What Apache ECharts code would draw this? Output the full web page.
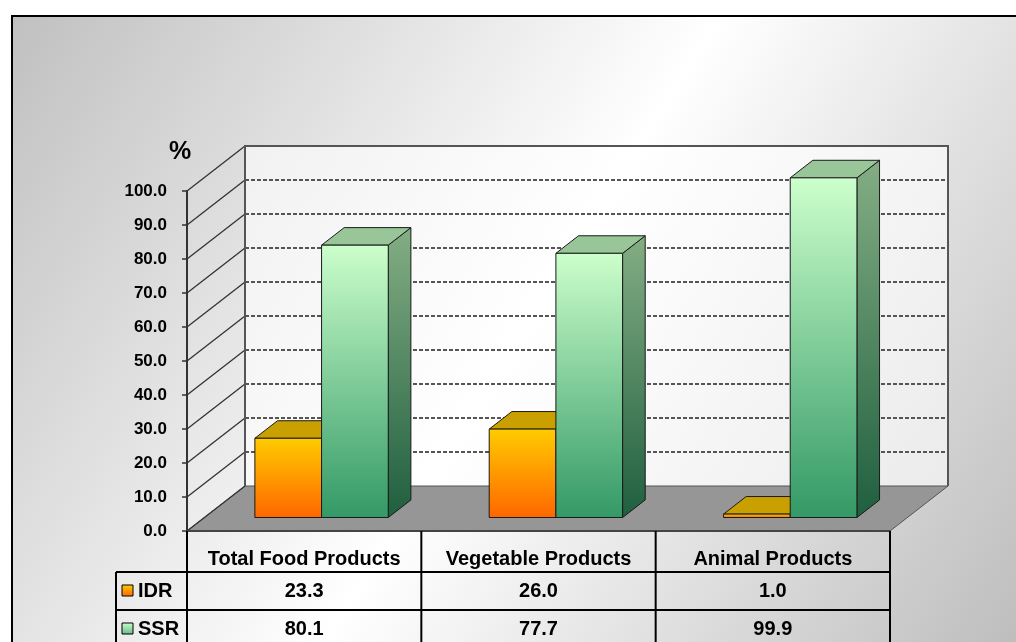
<!DOCTYPE html>
<html>
<head>
<meta charset="utf-8">
<script src="https://cdn.jsdelivr.net/npm/echarts@6/dist/echarts.min.js"></script>
<style>
  html, body { margin: 0; padding: 0; background: #fff; }
  #chart { width: 1016px; height: 642px; }
</style>
</head>
<body>
<div id="chart"></div>
<script>
// ---- data ----
const categories = ['Total Food Products', 'Vegetable Products', 'Animal Products'];
const seriesNames = ['IDR', 'SSR'];
const idrValues = [23.3, 26.0, 1.0];
const ssrValues = [80.1, 77.7, 99.9];
const yTicks = [0, 10, 20, 30, 40, 50, 60, 70, 80, 90, 100];

// ---- look ----
const FONT = '"Liberation Sans", Arial, sans-serif';
const DEPTH = [58, -45];            // screen offset of the back plane
const BAR_Z0 = 0.30, BAR_Z1 = 0.69; // depth slice occupied by the bars
const BAR_FRAC = 0.2846;            // one bar's width as a share of a category band
const ROW_TOP = [41, 79, 117];      // table row boundaries below the floor edge
const palette = {
  IDR: { front: ['#FFCC00', '#FF6600'], top: '#C9A000', side: ['#B08C00', '#8A4A00'], key: ['#FFCC00', '#FF6600'] },
  SSR: { front: ['#CCFFCC', '#339966'], top: '#99C699', side: ['#84AE84', '#1F5F3F'], key: ['#CCFFCC', '#66BB88'] }
};
const vGrad = (c) => new echarts.graphic.LinearGradient(0, 0, 0, 1, [
  { offset: 0, color: c[0] }, { offset: 1, color: c[1] }
]);

// back wall, floor, gridlines, side ribs and the table frame
function renderScene(params, api) {
  const cs = params.coordSys;
  const L = cs.x, R = cs.x + cs.width, B = cs.y + cs.height;
  const yMax = yTicks[yTicks.length - 1];
  const T = api.coord([0, yMax])[1];
  const [dx, dy] = DEPTH;
  const kids = [];
  kids.push({ type: 'rect', shape: { x: L + dx, y: T + dy, width: R - L, height: B - T },
    style: { fill: 'rgba(255,255,255,0.6)' } });
  kids.push({ type: 'polygon', shape: { points: [[L, B], [R, B], [R + dx, B + dy], [L + dx, B + dy]] },
    style: { fill: '#969696', stroke: '#555', lineWidth: 1 } });
  yTicks.forEach(v => {
    const y = api.coord([0, v])[1];
    if (v > 0 && v < yMax) {
      kids.push({ type: 'line', shape: { x1: L + dx, y1: y + dy, x2: R + dx, y2: y + dy },
        style: { stroke: '#555', lineWidth: 2, lineDash: [4, 2] } });
    }
    kids.push({ type: 'line', shape: { x1: L, y1: y, x2: L + dx, y2: y + dy },
      style: { stroke: '#333', lineWidth: 1.3 } });
  });
  kids.push({ type: 'polyline', shape: { points: [[L + dx, B + dy], [L + dx, T + dy], [R + dx, T + dy], [R + dx, B + dy]] },
    style: { stroke: '#555', lineWidth: 2, fill: null } });
  kids.push({ type: 'line', shape: { x1: L, y1: B, x2: R, y2: B }, style: { stroke: '#444', lineWidth: 2 } });

  // table frame
  const left = L - 71;
  const bottom = B + ROW_TOP[2];
  kids.push({ type: 'line', shape: { x1: L, y1: B, x2: L, y2: bottom }, style: { stroke: '#000', lineWidth: 2 } });
  kids.push({ type: 'line', shape: { x1: left, y1: B + ROW_TOP[0], x2: left, y2: bottom }, style: { stroke: '#000', lineWidth: 2 } });
  [ROW_TOP[0], ROW_TOP[1], ROW_TOP[2]].forEach(off => {
    kids.push({ type: 'line', shape: { x1: left, y1: B + off, x2: R, y2: B + off }, style: { stroke: '#000', lineWidth: 2 } });
  });
  // legend keys in the row headers
  seriesNames.forEach((name, r) => {
    const cy = B + (ROW_TOP[r] + ROW_TOP[r + 1]) / 2;
    kids.push({ type: 'rect', shape: { x: left + 6, y: cy - 6, width: 11, height: 11 },
      style: { fill: vGrad(palette[name].key), stroke: '#000', lineWidth: 1 } });
    kids.push({ type: 'text', x: left + 22, y: cy,
      style: { text: name, font: 'bold 20px ' + FONT, fill: '#000', align: 'left', verticalAlign: 'middle' } });
  });
  return { type: 'group', children: kids };
}

// one column of table values per category
function renderTable(params, api) {
  const i = api.value(0);
  const cs = params.coordSys;
  const B = cs.y + cs.height;
  const band = api.size([1, 0])[0];
  const cx = api.coord([i, 0])[0];
  const kids = [{ type: 'line', shape: { x1: cx + band / 2, y1: B, x2: cx + band / 2, y2: B + ROW_TOP[2] },
    style: { stroke: '#000', lineWidth: 2 } }];
  [idrValues, ssrValues].forEach((vals, r) => {
    kids.push({ type: 'text', x: cx, y: B + (ROW_TOP[r] + ROW_TOP[r + 1]) / 2,
      style: { text: vals[i].toFixed(1), font: 'bold 20px ' + FONT, fill: '#000', align: 'center', verticalAlign: 'middle' } });
  });
  return { type: 'group', children: kids };
}

// 3-D bar: front face, top face, right side face
function barRenderer(name, slot) {
  const pal = palette[name];
  return function (params, api) {
    const cat = api.value(0), val = api.value(1);
    const base = api.coord([cat, 0]);
    const top = api.coord([cat, val]);
    const band = api.size([1, 0])[0];
    const w = band * BAR_FRAC;
    const sx = DEPTH[0] * BAR_Z0, sy = DEPTH[1] * BAR_Z0;
    const dx = DEPTH[0] * (BAR_Z1 - BAR_Z0), dy = DEPTH[1] * (BAR_Z1 - BAR_Z0);
    const x0 = base[0] + (slot - 1) * w + sx, x1 = x0 + w;
    const yb = base[1] + sy, yt = top[1] + sy;
    const edge = { stroke: '#1a1a1a', lineWidth: 1, lineJoin: 'round' };
    return {
      type: 'group',
      children: [
        { type: 'polygon', shape: { points: [[x1, yt], [x1 + dx, yt + dy], [x1 + dx, yb + dy], [x1, yb]] },
          style: Object.assign({ fill: vGrad(pal.side) }, edge) },
        { type: 'polygon', shape: { points: [[x0, yt], [x1, yt], [x1 + dx, yt + dy], [x0 + dx, yt + dy]] },
          style: Object.assign({ fill: pal.top }, edge) },
        { type: 'rect', shape: { x: x0, y: yt, width: w, height: Math.max(yb - yt, 0.5) },
          style: Object.assign({ fill: vGrad(pal.front) }, edge) }
      ]
    };
  };
}

const chart = echarts.init(document.getElementById('chart'), null, { renderer: 'canvas' });
chart.setOption({
  animation: false,
  backgroundColor: '#fff',
  graphic: [{
    type: 'rect', z: -10,
    shape: { x: 12, y: 16, width: 1012, height: 640 },
    style: {
      fill: new echarts.graphic.LinearGradient(0, 0, 1, 1, [
        { offset: 0, color: '#c0c0c0' }, { offset: 0.5, color: '#ffffff' }, { offset: 1, color: '#bcbcbc' }
      ]),
      stroke: '#000', lineWidth: 2
    }
  }],
  grid: { left: 187, top: 191, width: 703, height: 340, containLabel: false },
  xAxis: {
    type: 'category', data: categories,
    axisLine: { show: false }, axisTick: { show: false },
    axisLabel: { interval: 0, margin: 18, fontFamily: FONT, fontSize: 20, fontWeight: 'bold', color: '#000' },
    splitLine: { show: false }
  },
  yAxis: {
    type: 'value', min: 0, max: 100, interval: 10,
    name: '%', nameLocation: 'end', nameGap: 26,
    nameTextStyle: { fontFamily: FONT, fontSize: 25, fontWeight: 'bold', color: '#000', padding: [0, 14, 0, 0] },
    axisLine: { show: true, lineStyle: { color: '#333', width: 2 } },
    axisTick: { show: true, length: 5, lineStyle: { color: '#333', width: 1.5 } },
    axisLabel: { margin: 20, formatter: v => v.toFixed(1), fontFamily: FONT, fontSize: 17, fontWeight: 'bold', color: '#000' },
    splitLine: { show: false }
  },
  series: [
    { type: 'custom', name: 'scene', z: 1, silent: true, data: [[0, 0]], renderItem: renderScene },
    { type: 'custom', name: 'table', z: 1, silent: true, data: categories.map((c, i) => [i]), renderItem: renderTable },
    { type: 'custom', name: seriesNames[0], z: 3, data: idrValues.map((v, i) => [i, v]), renderItem: barRenderer('IDR', 0) },
    { type: 'custom', name: seriesNames[1], z: 4, data: ssrValues.map((v, i) => [i, v]), renderItem: barRenderer('SSR', 1) }
  ]
});
</script>
</body>
</html>
